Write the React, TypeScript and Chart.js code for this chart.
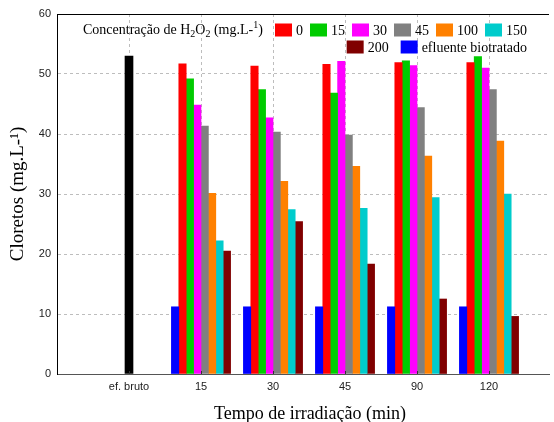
import React, { useEffect, useRef } from 'react';
import { Chart, registerables } from 'chart.js';

Chart.register(...registerables);

// ---- data ----
const categories = ['ef. bruto', '15', '30', '45', '90', '120'];
const yTicks = [0, 10, 20, 30, 40, 50, 60];
const efluenteBruto = [53.0];
const biotratado = [11.2, 11.2, 11.2, 11.2, 11.2];
const h2o2_0 = [51.7, 51.3, 51.6, 51.9, 51.9];
const h2o2_15 = [49.2, 47.4, 46.8, 52.2, 52.9];
const h2o2_30 = [44.8, 42.7, 52.1, 51.4, 51.0];
const h2o2_45 = [41.3, 40.3, 39.8, 44.4, 47.4];
const h2o2_100 = [30.1, 32.1, 34.6, 36.3, 38.8];
const h2o2_150 = [22.2, 27.4, 27.6, 29.4, 30.0];
const h2o2_200 = [20.5, 25.4, 18.3, 12.5, 9.6];

const groupSeries = [
  { label: 'efluente biotratado', values: biotratado, color: '#0000FF' },
  { label: '0', values: h2o2_0, color: '#FF0000' },
  { label: '15', values: h2o2_15, color: '#00CC00' },
  { label: '30', values: h2o2_30, color: '#FF00FF' },
  { label: '45', values: h2o2_45, color: '#808080' },
  { label: '100', values: h2o2_100, color: '#FF8000' },
  { label: '150', values: h2o2_150, color: '#00CCCC' },
  { label: '200', values: h2o2_200, color: '#800000' },
];
const legendRow1 = ['0', '15', '30', '45', '100', '150'];
const legendRow2 = ['200', 'efluente biotratado'];

const titleSegments = [
  { t: 'Concentração de H', k: '' },
  { t: '2', k: 'sub' },
  { t: 'O', k: '' },
  { t: '2', k: 'sub' },
  { t: ' (mg.L-', k: '' },
  { t: '1', k: 'sup' },
  { t: ')', k: '' },
];
const xTitle = 'Tempo de irradiação (min)';
const yTitle = 'Cloretos (mg.L-¹)';

const SERIF = '"Liberation Serif", "Times New Roman", serif';
const SANS = '"Liberation Sans", Arial, sans-serif';
const GRID = '#bdbdbd';

const colorOf = (label: string) => groupSeries.find((s) => s.label === label)!.color;

const decorPlugin = {
  id: 'decor',
  beforeDatasetsDraw(chart: any) {
    const { ctx, chartArea, scales } = chart;
    const xs = scales.x;
    ctx.save();
    ctx.strokeStyle = GRID;
    ctx.lineWidth = 1;
    ctx.setLineDash([3, 3]);
    for (const t of xs.ticks) {
      const px = Math.round(xs.getPixelForValue(t.value)) + 0.5;
      ctx.beginPath();
      ctx.moveTo(px, chartArea.top);
      ctx.lineTo(px, chartArea.bottom);
      ctx.stroke();
    }
    ctx.restore();
  },
  afterDatasetsDraw(chart: any) {
    const ctx = chart.ctx as CanvasRenderingContext2D;
    const { chartArea, scales } = chart;
    ctx.save();
    // small inward ticks on the x axis
    ctx.strokeStyle = '#333';
    ctx.lineWidth = 1;
    for (const t of scales.x.ticks) {
      const px = Math.round(scales.x.getPixelForValue(t.value)) + 0.5;
      ctx.beginPath();
      ctx.moveTo(px, chartArea.bottom - 3);
      ctx.lineTo(px, chartArea.bottom);
      ctx.stroke();
    }
    const font = `14px ${SERIF}`;
    const small = `10px ${SERIF}`;
    ctx.textBaseline = 'middle';
    ctx.fillStyle = '#000';
    const y1 = 30;
    const y2 = 47;
    let x = 83;
    for (const seg of titleSegments) {
      ctx.font = seg.k ? small : font;
      const dy = seg.k === 'sub' ? 4 : seg.k === 'sup' ? -5 : 0;
      ctx.fillStyle = '#000';
      ctx.fillText(seg.t, x, y1 + dy);
      x += ctx.measureText(seg.t).width;
    }
    ctx.font = font;
    const boxW = 17;
    const boxH = 13;
    const gapText = 4;
    const drawItem = (label: string, bx: number, y: number, gapItem: number) => {
      ctx.fillStyle = colorOf(label);
      ctx.fillRect(bx, y - boxH / 2, boxW, boxH);
      ctx.fillStyle = '#000';
      ctx.fillText(label, bx + boxW + gapText, y + 1);
      return bx + boxW + gapText + ctx.measureText(label).width + gapItem;
    };
    const gap1 = 7;
    const gap2 = 12;
    let bx = 275;
    for (const l of legendRow1) bx = drawItem(l, bx, y1, gap1);
    const rowEnd = bx - gap1;
    const w2 = legendRow2.reduce(
      (a, l) => a + boxW + gapText + ctx.measureText(l).width + gap2,
      -gap2
    );
    bx = rowEnd - w2;
    for (const l of legendRow2) bx = drawItem(l, bx, y2, gap2);
    ctx.restore();
  },
  afterDraw(chart: any) {
    const { ctx, chartArea } = chart;
    ctx.save();
    ctx.strokeStyle = '#000';
    ctx.lineWidth = 1;
    ctx.beginPath();
    ctx.moveTo(chartArea.left, Math.round(chartArea.top) + 0.5);
    ctx.lineTo(chartArea.right, Math.round(chartArea.top) + 0.5);
    ctx.stroke();
    // x axis title
    ctx.fillStyle = '#000';
    ctx.font = `18px ${SERIF}`;
    ctx.textAlign = 'center';
    ctx.textBaseline = 'alphabetic';
    ctx.fillText(xTitle, (chartArea.left + chartArea.right) / 2 + 7, 419);
    ctx.restore();
  },
};

export default function App() {
  const ref = useRef<HTMLCanvasElement | null>(null);
  useEffect(() => {
    if (!ref.current) return;
    const datasets: any[] = [
      {
        label: 'ef. bruto',
        data: efluenteBruto.map((v, i) => ({ x: i + 1, y: v })),
        backgroundColor: '#000000',
        grouped: false,
        barThickness: 8,
      },
      ...groupSeries.map((s) => ({
        label: s.label,
        data: s.values.map((v, i) => ({ x: i + 2, y: v })),
        backgroundColor: s.color,
        barThickness: 7.4,
      })),
    ];
    const chart = new Chart(ref.current, {
      type: 'bar',
      data: { datasets },
      plugins: [decorPlugin],
      options: {
        animation: false,
        responsive: false,
        devicePixelRatio: 1,
        layout: { padding: { top: 14, right: 5, left: 0, bottom: 0 } },
        plugins: { legend: { display: false }, tooltip: { enabled: false } },
        scales: {
          x: {
            type: 'linear',
            min: 0,
            max: 492 / 72,
            offset: false,
            afterBuildTicks: (s: any) => {
              s.ticks = categories.map((_, i) => ({ value: i + 1 }));
            },
            ticks: {
              autoSkip: false,
              maxRotation: 0,
              padding: 6,
              color: '#222',
              font: { family: SANS, size: 11 },
              callback: (v: any) => categories[Number(v) - 1] ?? '',
            },
            grid: { display: false, drawTicks: false, offset: false },
            border: { display: true, color: '#555', width: 1 },
            afterFit: (s: any) => {
              s.height = 48;
            },
          } as any,
          y: {
            min: 0,
            max: 60,
            afterBuildTicks: (s: any) => {
              s.ticks = yTicks.map((v) => ({ value: v }));
            },
            ticks: {
              padding: 6,
              color: '#222',
              font: { family: SANS, size: 11 },
            },
            grid: {
              drawTicks: false,
              color: (c: any) => (c.tick && (c.tick.value === 60 || c.tick.value === 0) ? 'rgba(0,0,0,0)' : GRID),
            },
            border: { display: true, color: '#000', width: 1, dash: [3, 3] },
            title: {
              display: true,
              text: yTitle,
              color: '#000',
              font: { family: SERIF, size: 19 },
              padding: { top: 7, bottom: 0 },
            },
            afterFit: (s: any) => {
              s.width = 57;
            },
          } as any,
        },
      },
    });
    return () => chart.destroy();
  }, []);
  return (
    <div style={{ position: 'fixed', left: 0, top: 0, width: 554, height: 422, background: '#fff' }}>
      <canvas ref={ref} width={554} height={422} />
    </div>
  );
}
